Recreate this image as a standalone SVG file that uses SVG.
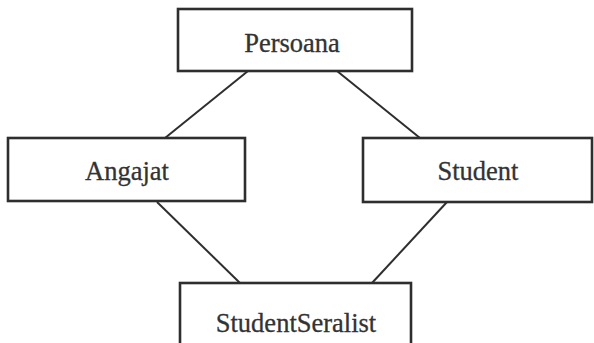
<svg xmlns="http://www.w3.org/2000/svg" width="594" height="343" viewBox="0 0 594 343">
<style>
.box{fill:#fff;stroke:#2e2e2e;stroke-width:2.6}
.lbl{font-family:"Liberation Serif","Times New Roman",serif;font-size:26.5px;fill:#333;stroke:#333;stroke-width:0.3;text-anchor:middle}
.con{stroke:#2e2e2e;stroke-width:2;fill:none}
</style>
<rect width="594" height="343" fill="#fff"/>
<g id="connectors">
<line class="con" x1="248" y1="71" x2="165" y2="138"/>
<line class="con" x1="337" y1="71" x2="420" y2="138"/>
<line class="con" x1="157" y1="202" x2="240" y2="283"/>
<line class="con" x1="447" y1="202" x2="372" y2="283"/>
</g>
<g id="persoana">
<rect class="box" x="178" y="9" width="234" height="62"/>
<text class="lbl" x="292" y="52">Persoana</text>
</g>
<g id="angajat">
<rect class="box" x="8" y="138" width="237" height="63"/>
<text class="lbl" x="127" y="180">Angajat</text>
</g>
<g id="student">
<rect class="box" x="363" y="138" width="229" height="64"/>
<text class="lbl" x="478" y="180">Student</text>
</g>
<g id="studentseralist">
<rect class="box" x="180" y="283" width="231" height="66"/>
<text class="lbl" x="296" y="332">StudentSeralist</text>
</g>
</svg>
